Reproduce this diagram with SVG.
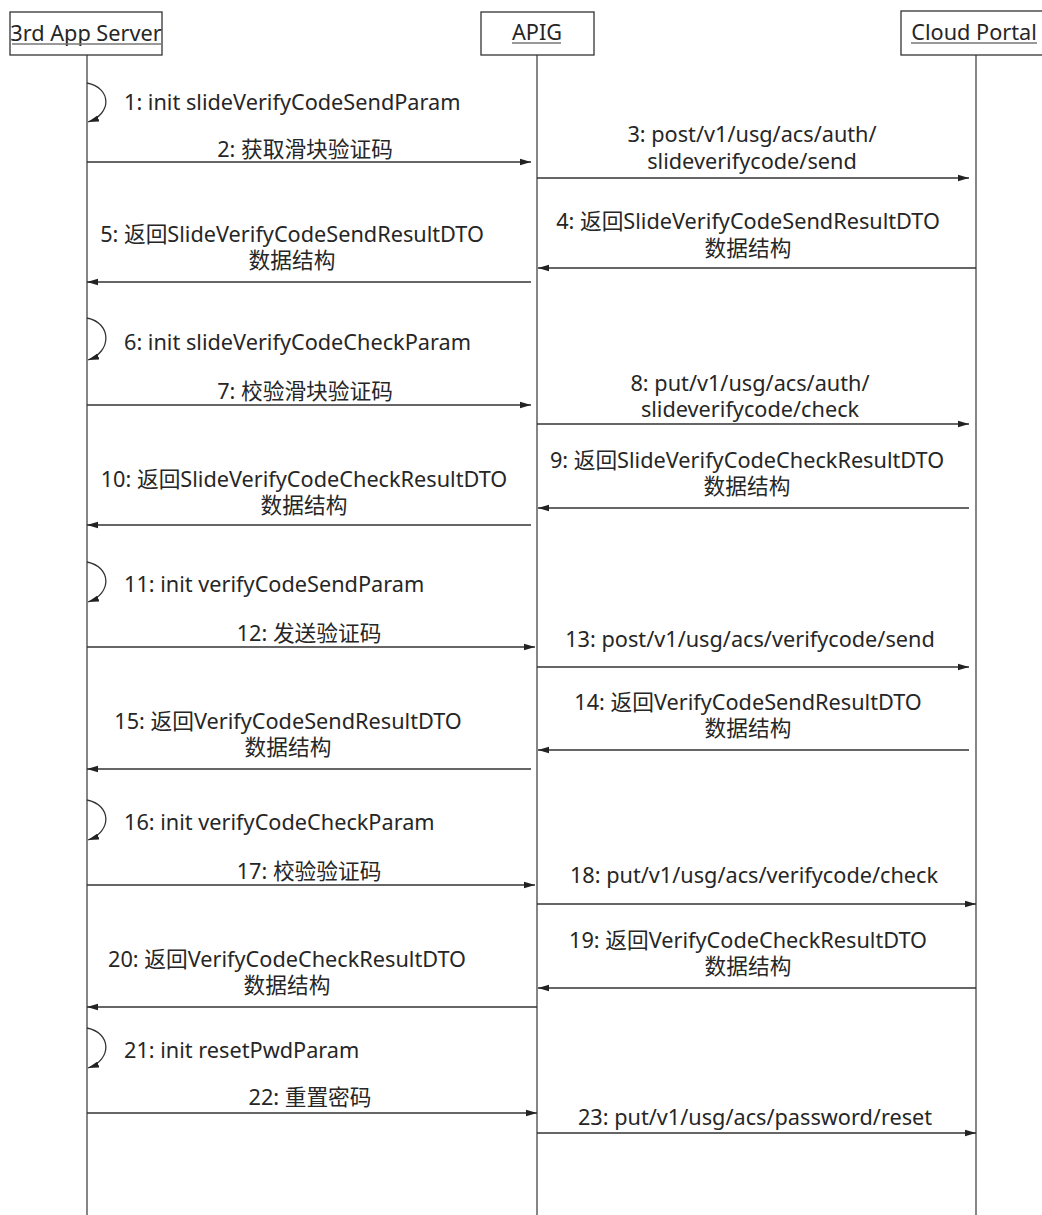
<svg xmlns="http://www.w3.org/2000/svg" width="1042" height="1215" viewBox="0 0 1042 1215">
<style>
text{font-family:"Noto Sans","Noto Sans CJK SC",sans-serif;font-size:21.7px;fill:#262626}
.m{text-anchor:middle}
.box{fill:#fff;stroke:#333;stroke-width:1.3}
.life{stroke:#444;stroke-width:1.3;fill:none}
.ul{stroke:#777;stroke-width:1.5}
.msg{stroke:#333;stroke-width:1.3;fill:none;marker-end:url(#ah)}
</style>
<defs>
<marker id="ah" markerUnits="userSpaceOnUse" markerWidth="12" markerHeight="8" refX="11" refY="4" orient="auto">
<path d="M0,0.8 L11,4 L0,7.2 Z" fill="#222"/>
</marker>
</defs>
<rect width="1042" height="1215" fill="#fff"/>
<g id="lifelines">
<line class="life" x1="87" y1="55" x2="87" y2="1215"/>
<line class="life" x1="537" y1="55" x2="537" y2="1215"/>
<line class="life" x1="976" y1="55" x2="976" y2="1215"/>
</g>
<g id="node-app">
<rect class="box" x="10" y="12" width="152" height="43"/>
<text class="m" x="86" y="41">3rd App Server</text>
<line class="ul" x1="12" y1="44" x2="161" y2="44"/>
</g>
<g id="node-apig">
<rect class="box" x="481" y="12" width="113" height="43"/>
<text class="m" x="537" y="40">APIG</text>
<line class="ul" x1="512" y1="43" x2="561" y2="43"/>
</g>
<g id="node-portal">
<rect class="box" x="901" y="11" width="160" height="44"/>
<text class="m" x="974" y="40">Cloud Portal</text>
<line class="ul" x1="911" y1="43" x2="1037" y2="43"/>
</g>
<g id="connectors">
<path class="msg" d="M87,83 C112,88 112,114 88,122"/>
<path class="msg" d="M87,162 H531"/>
<path class="msg" d="M537,178 H969"/>
<path class="msg" d="M976,268 H538"/>
<path class="msg" d="M531,282 H87"/>
<path class="msg" d="M87,318 C112,323 112,352 88,360"/>
<path class="msg" d="M87,405 H531"/>
<path class="msg" d="M537,424 H969"/>
<path class="msg" d="M969,508 H538"/>
<path class="msg" d="M531,525 H87"/>
<path class="msg" d="M87,562 C112,567 112,594 88,602"/>
<path class="msg" d="M87,647 H535"/>
<path class="msg" d="M537,667 H969"/>
<path class="msg" d="M969,750 H538"/>
<path class="msg" d="M531,769 H87"/>
<path class="msg" d="M87,800 C112,805 112,832 88,840"/>
<path class="msg" d="M87,885 H535"/>
<path class="msg" d="M537,904 H976"/>
<path class="msg" d="M976,988 H538"/>
<path class="msg" d="M537,1007 H87"/>
<path class="msg" d="M87,1028 C112,1033 112,1060 88,1068"/>
<path class="msg" d="M87,1113 H537"/>
<path class="msg" d="M537,1133 H976"/>
</g>
<g id="labels">
<text x="124" y="110">1: init slideVerifyCodeSendParam</text>
<text class="m" x="305" y="157">2: 获取滑块验证码</text>
<text class="m" x="752" y="142">3: post/v1/usg/acs/auth/<tspan x="752" y="169">slideverifycode/send</tspan></text>
<text class="m" x="748" y="229">4: 返回SlideVerifyCodeSendResultDTO<tspan x="748" y="256">数据结构</tspan></text>
<text class="m" x="292" y="242">5: 返回SlideVerifyCodeSendResultDTO<tspan x="292" y="268">数据结构</tspan></text>
<text x="124" y="350">6: init slideVerifyCodeCheckParam</text>
<text class="m" x="305" y="399">7: 校验滑块验证码</text>
<text class="m" x="750" y="391">8: put/v1/usg/acs/auth/<tspan x="750" y="417">slideverifycode/check</tspan></text>
<text class="m" x="747" y="468">9: 返回SlideVerifyCodeCheckResultDTO<tspan x="747" y="494">数据结构</tspan></text>
<text class="m" x="304" y="487">10: 返回SlideVerifyCodeCheckResultDTO<tspan x="304" y="513">数据结构</tspan></text>
<text x="124" y="592">11: init verifyCodeSendParam</text>
<text class="m" x="309" y="641">12: 发送验证码</text>
<text class="m" x="750" y="647">13: post/v1/usg/acs/verifycode/send</text>
<text class="m" x="748" y="710">14: 返回VerifyCodeSendResultDTO<tspan x="748" y="736">数据结构</tspan></text>
<text class="m" x="288" y="729">15: 返回VerifyCodeSendResultDTO<tspan x="288" y="755">数据结构</tspan></text>
<text x="124" y="830">16: init verifyCodeCheckParam</text>
<text class="m" x="309" y="879">17: 校验验证码</text>
<text class="m" x="754" y="883">18: put/v1/usg/acs/verifycode/check</text>
<text class="m" x="748" y="948">19: 返回VerifyCodeCheckResultDTO<tspan x="748" y="974">数据结构</tspan></text>
<text class="m" x="287" y="967">20: 返回VerifyCodeCheckResultDTO<tspan x="287" y="993">数据结构</tspan></text>
<text x="124" y="1058">21: init resetPwdParam</text>
<text class="m" x="310" y="1105">22: 重置密码</text>
<text class="m" x="755" y="1125">23: put/v1/usg/acs/password/reset</text>
</g>
</svg>
